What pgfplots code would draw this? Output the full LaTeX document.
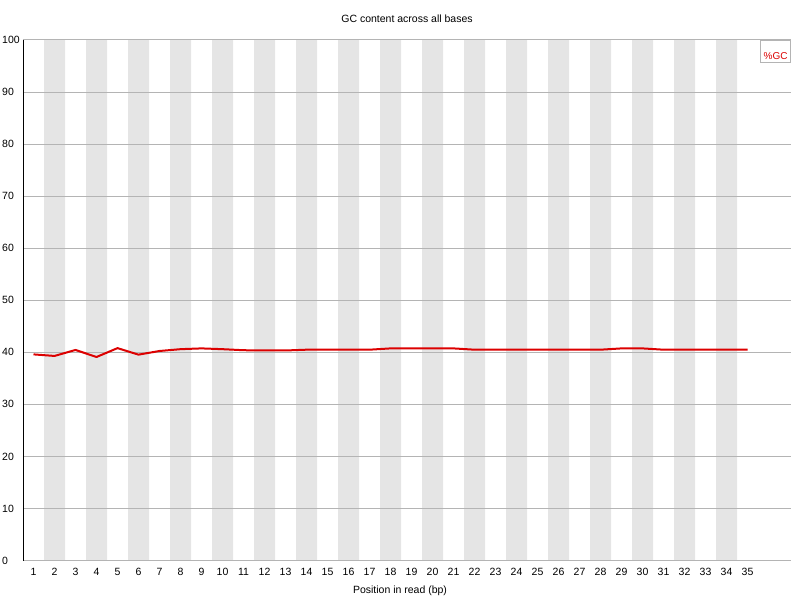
\documentclass[border=0pt]{standalone}
\usepackage{pgfplots}
\pgfplotsset{compat=1.18}
\usepackage{fontspec}
\setmainfont{Liberation Sans}
\definecolor{gcred}{RGB}{220,0,0}
\definecolor{band}{RGB}{229,229,229}
\definecolor{gridgrey}{RGB}{180,180,180}

\begin{document}
\begin{tikzpicture}
\begin{axis}[
  set layers,
  at={(23pt,39.5pt)}, anchor=south west,
  scale only axis, width=768pt, height=520.5pt,
  xmin=0.5, xmax=37.07, ymin=0, ymax=100,
  axis x line*=bottom, axis y line*=left,
  x axis line style={gridgrey, line width=1pt, -},
  y axis line style={black, line width=1pt, -},
  xtick={1,...,35}, ytick={0,10,...,100},
  major tick length=0pt,
  ymajorgrids, grid style={gridgrey, line width=1pt},
  /pgf/number format/assume math mode=true,
  tick label style={font=\fontsize{10.5}{12}\selectfont},
  xticklabel style={yshift=-4pt},
  yticklabel style={anchor=west, inner sep=0pt, xshift=-21pt},
  title={GC content across all bases},
  title style={at={(axis description cs:0.5,1)}, anchor=center, yshift=15pt, font=\fontsize{10.5}{12}\selectfont},
  xlabel={Position in read (bp)},
  xlabel style={at={(axis description cs:0.5,0)}, anchor=center, xshift=-7pt, yshift=-30.5pt, font=\fontsize{10.5}{12}\selectfont},
  legend style={at={(1,1)}, anchor=north east, draw=gridgrey, line width=1pt, fill=white,
    font=\fontsize{10}{12}\selectfont, text=gcred, inner xsep=2pt, inner ysep=2pt,
    nodes={inner sep=1pt, text height=16pt, text depth=0pt}},
]
% alternating background bands (even positions)
\addplot[on layer=axis background, ybar, bar width=1, fill=band, draw=none, forget plot]
  coordinates {(2,100) (4,100) (6,100) (8,100) (10,100) (12,100) (14,100) (16,100)
               (18,100) (20,100) (22,100) (24,100) (26,100) (28,100) (30,100) (32,100) (34,100)};
\addplot[gcred, line width=2pt, line join=round, legend image code/.code={}] coordinates {
  (1,39.6) (2,39.3) (3,40.45) (4,39.1) (5,40.8) (6,39.55) (7,40.25) (8,40.6)
  (9,40.75) (10,40.6) (11,40.4) (12,40.35) (13,40.35) (14,40.5) (15,40.5) (16,40.5)
  (17,40.5) (18,40.75) (19,40.75) (20,40.75) (21,40.75) (22,40.5) (23,40.5) (24,40.5)
  (25,40.5) (26,40.5) (27,40.5) (28,40.5) (29,40.75) (30,40.75) (31,40.5) (32,40.5)
  (33,40.5) (34,40.5) (35,40.5)
};
\addlegendentry{\%GC}
\end{axis}
\pgfresetboundingbox
\path[use as bounding box] (0,0) rectangle (800pt,600pt);
\end{tikzpicture}
\end{document}
